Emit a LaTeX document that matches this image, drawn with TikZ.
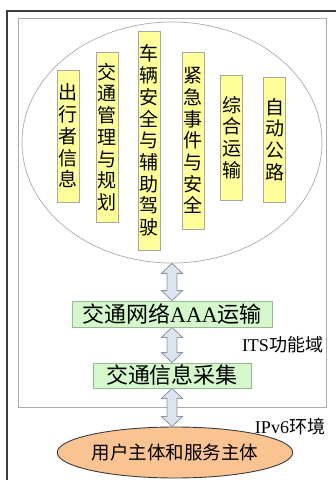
\documentclass[tikz,border=0pt]{standalone}
\usepackage{fontspec}
\setmainfont{Liberation Serif}
\newfontfamily\cjk{Noto Sans CJK SC}
\usetikzlibrary{shapes.geometric,calc}
\definecolor{yelfill}{HTML}{FFFF99}
\definecolor{yeldraw}{HTML}{A8A8A0}
\definecolor{grnfill}{HTML}{D4F7CC}
\definecolor{grndraw}{HTML}{98B898}
\definecolor{arrfill}{HTML}{DCE4F0}
\definecolor{arrdraw}{HTML}{8C94A4}
\definecolor{orgfill}{HTML}{FAC392}
\definecolor{lightline}{HTML}{ABABAB}
\definecolor{darkline}{HTML}{3C3C3C}
\tikzset{
  vbox/.style={draw=yeldraw,fill=yelfill,line width=0.8pt,minimum width=22pt,text width=22pt,align=center,inner sep=0pt,font=\cjk\fontsize{19}{21.7}\selectfont},
  gbox/.style={draw=grndraw,fill=grnfill,line width=0.8pt,inner sep=0pt,font=\fontsize{22}{24}\selectfont},
  lbl/.style={inner sep=0pt,font=\fontsize{18}{20}\selectfont},
  blockarrow/.style={draw=arrdraw,fill=arrfill,line width=0.8pt,line join=miter}
}
\newcommand{\dblarrow}[2]{%
  \path[blockarrow] let \p1=(#1), \p2=(#2) in
    (\x1,\y1) -- (\x1+10.5pt,\y1-10pt) -- (\x1+5pt,\y1-10pt) -- (\x1+5pt,\y2+10pt)
    -- (\x1+10.5pt,\y2+10pt) -- (\x1,\y2) -- (\x1-10.5pt,\y2+10pt) -- (\x1-5pt,\y2+10pt)
    -- (\x1-5pt,\y1-10pt) -- (\x1-10.5pt,\y1-10pt) -- cycle;}
\begin{document}
\begin{tikzpicture}[x=1pt,y=-1pt]
\useasboundingbox (0,0) rectangle (336,480);
% outer frame
\draw[darkline,line width=1.5pt] (7,490) -- (7,11) -- (345,11);
% ITS domain
\draw[lightline,line width=0.7pt] (18,18) rectangle (326,407);
\node[ellipse,draw=lightline,line width=0.7pt,minimum width=300pt,minimum height=241pt,inner sep=0pt] (ell) at (172,142.5) {};
% yellow boxes
\node[vbox,minimum height=132pt] (b1) at (68,136) {出\\行\\者\\信\\息};
\node[vbox,minimum height=170pt] (b2) at (107,137) {交\\通\\管\\理\\与\\规\\划};
\node[vbox,minimum height=219pt] (b3) at (149,140.5) {车\\辆\\安\\全\\与\\辅\\助\\驾\\驶};
\node[vbox,minimum height=177pt] (b4) at (193,140.5) {紧\\急\\事\\件\\与\\安\\全};
\node[vbox,minimum height=125pt] (b5) at (231.5,137.5) {综\\合\\运\\输};
\node[vbox,minimum height=125pt] (b6) at (274.5,139.5) {自\\动\\公\\路};
% green boxes
\node[gbox,minimum width=200pt,minimum height=26pt] (g1) at (172,314) {{\cjk 交通网络}AAA{\cjk 运输}};
\node[gbox,minimum width=158pt,minimum height=25pt] (g2) at (172,375.5) {\cjk 交通信息采集};
% labels
\node[lbl] (its) at (282.5,345) {ITS{\cjk 功能域}};
\node[lbl] (ipv) at (290,427) {IPv6{\cjk 环境}};
% user ellipse
\node[ellipse,draw=darkline,fill=orgfill,line width=0.9pt,minimum width=200pt,minimum height=51pt,inner sep=0pt,font=\cjk\fontsize{18.5}{20}\selectfont] (usr) at (175,452.5) {用户主体和服务主体};
% arrows
\dblarrow{ell.south}{g1.north}
\dblarrow{g1.south}{g2.north}
\dblarrow{g2.south}{usr.north}
\end{tikzpicture}
\end{document}
